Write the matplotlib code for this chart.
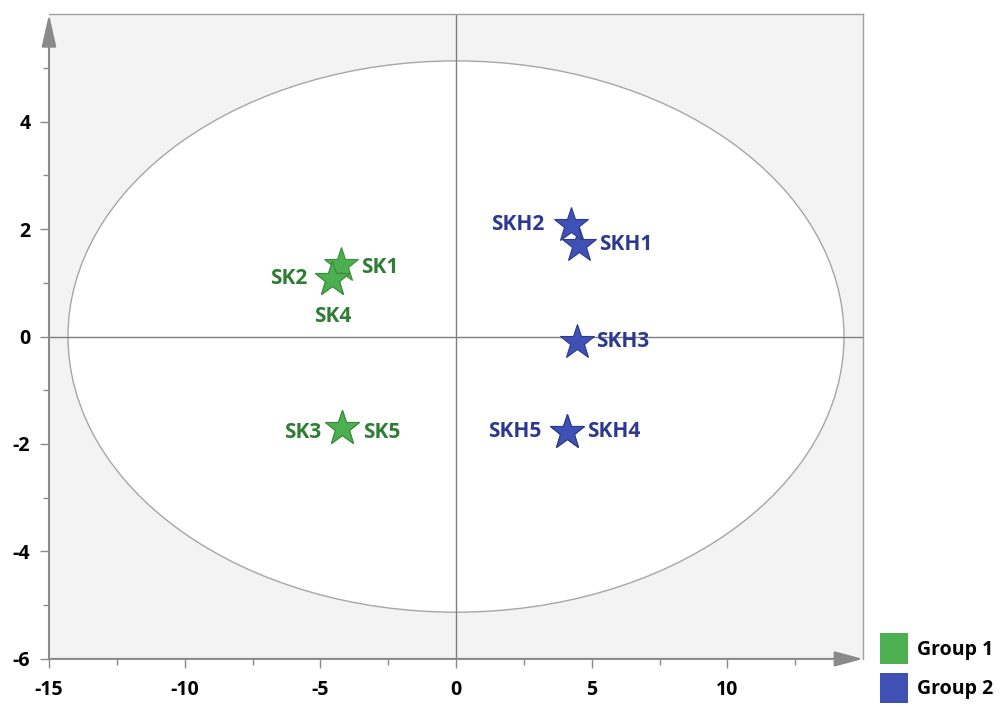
import matplotlib
matplotlib.use("Agg")
import matplotlib.pyplot as plt
from matplotlib.patches import Ellipse, Patch

plt.rcParams['font.family'] = ['Open Sans', 'DejaVu Sans']

# Score coordinates per sample
group1_names = ["SK1", "SK2", "SK4", "SK3", "SK5"]
group1_x = [-4.23, -4.56, -4.56, -4.19, -4.19]
group1_y = [1.33, 1.08, 1.08, -1.70, -1.70]

group2_names = ["SKH1", "SKH2", "SKH3", "SKH4", "SKH5"]
group2_x = [4.52, 4.23, 4.45, 4.08, 4.08]
group2_y = [1.71, 2.08, -0.10, -1.77, -1.77]

# Label offsets (points) and alignment per sample
label_offsets = {
    "SK1": (14, -2, "left"), "SK2": (-18, 0, "right"), "SK4": (0, -27, "center"),
    "SK3": (-15, -3, "right"), "SK5": (15, -3, "left"),
    "SKH1": (15, 0, "left"), "SKH2": (-19, 0, "right"), "SKH3": (14, 0, "left"),
    "SKH4": (15, 0, "left"), "SKH5": (-18, 0, "right"),
}

legend_labels = ["Group 1", "Group 2"]

# Hotelling T2 ellipse semi-axes
ellipse_a = 14.3
ellipse_b = 5.13

x_ticks = [-15, -10, -5, 0, 5, 10]
x_minor = [-12.5, -7.5, -2.5, 2.5, 7.5, 12.5]
y_ticks = [-6, -4, -2, 0, 2, 4]
y_minor = [-5, -3, -1, 1, 3, 5]

green_fill, green_edge, green_text = "#4caf50", "#3b8c3e", "#2e7d32"
blue_fill, blue_edge, blue_text = "#3f51b5", "#2c3a8a", "#2b3990"
axis_grey = "#8a8a8a"

fig = plt.figure(figsize=(10, 7.07), dpi=100)
ax = fig.add_axes([0.049, 0.068, 0.814, 0.912])
ax.set_facecolor("#f3f3f3")
ax.set_xlim(-15, 15)
ax.set_ylim(-6, 6)

ax.add_patch(Ellipse((0, 0), 2 * ellipse_a, 2 * ellipse_b, facecolor="white",
                     edgecolor="#a6a6a6", lw=1.0, zorder=1))
ax.axhline(0, color="#7f7f7f", lw=1.0, zorder=2)
ax.axvline(0, color="#7f7f7f", lw=1.0, zorder=2)

def draw_group(xs, ys, names, fill, edge, tcolor):
    ax.plot(xs, ys, linestyle="none", marker="*", markersize=26,
            markerfacecolor=fill, markeredgecolor=edge, markeredgewidth=0.8, zorder=4)
    for name, x, y in zip(names, xs, ys):
        dx, dy, ha = label_offsets[name]
        ax.annotate(name, (x, y), xytext=(dx, dy), textcoords="offset points",
                    ha=ha, va="center", fontsize=15, fontweight="bold",
                    color=tcolor, zorder=5)

draw_group(group1_x, group1_y, group1_names, green_fill, green_edge, green_text)
draw_group(group2_x, group2_y, group2_names, blue_fill, blue_edge, blue_text)

# Frame: plain top/right, arrowed left/bottom axes
for side in ("left", "bottom"):
    ax.spines[side].set_visible(False)
for side in ("top", "right"):
    ax.spines[side].set_color("#a0a0a0")
    ax.spines[side].set_linewidth(1.0)

ax.annotate("", xy=(0, 1), xytext=(0, 0), xycoords="axes fraction",
            arrowprops=dict(arrowstyle="-|>,head_length=2.0,head_width=0.45",
                            mutation_scale=10, color=axis_grey, lw=1.5,
                            shrinkA=0, shrinkB=0), annotation_clip=False)
ax.annotate("", xy=(1, 0), xytext=(0, 0), xycoords="axes fraction",
            arrowprops=dict(arrowstyle="-|>,head_length=1.75,head_width=0.47",
                            mutation_scale=10, color=axis_grey, lw=1.5,
                            shrinkA=0, shrinkB=0), annotation_clip=False)

ax.set_xticks(x_ticks)
ax.set_xticks(x_minor, minor=True)
ax.set_yticks(y_ticks)
ax.set_yticks(y_minor, minor=True)
ax.set_xticklabels([str(t) for t in x_ticks])
ax.set_yticklabels([str(t) for t in y_ticks])
ax.tick_params(which="major", length=6.5, width=1, color=axis_grey)
ax.tick_params(which="minor", length=4.3, width=1, color=axis_grey)
ax.tick_params(axis="x", which="major", pad=9)
ax.tick_params(axis="y", which="major", pad=7)
for lbl in ax.get_xticklabels() + ax.get_yticklabels():
    lbl.set_fontsize(14)
    lbl.set_fontweight("bold")
    lbl.set_color("black")

handles = [Patch(facecolor=green_fill, edgecolor="none"),
           Patch(facecolor=blue_fill, edgecolor="none")]
leg = fig.legend(handles, legend_labels, loc="upper left",
                 bbox_to_anchor=(0.88, 0.104), frameon=False, borderpad=0,
                 borderaxespad=0, handlelength=1.44, handleheight=2.03,
                 handletextpad=0.46, labelspacing=0.46,
                 prop={"size": 14, "weight": "bold"})

fig.savefig("out.png", dpi=100, facecolor="white")
